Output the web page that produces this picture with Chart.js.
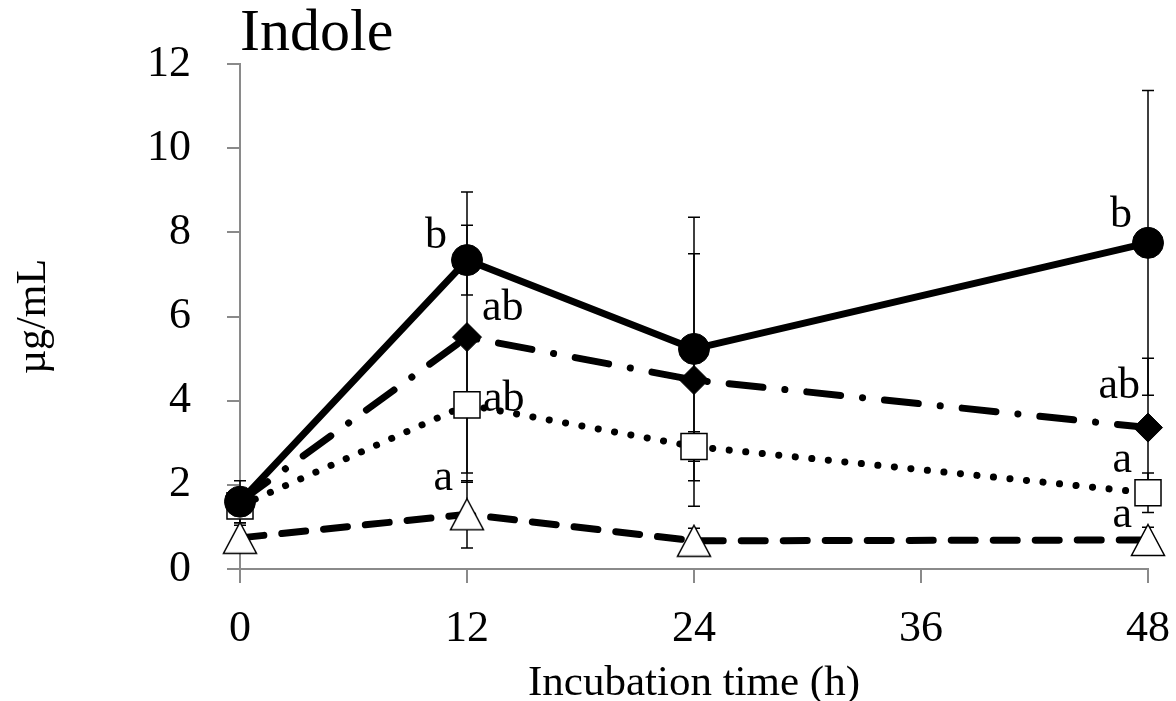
<!DOCTYPE html>
<html>
<head>
<meta charset="utf-8">
<script src="https://cdn.jsdelivr.net/npm/chart.js@4.4.1/dist/chart.umd.min.js"></script>
<style>
  html, body { margin: 0; padding: 0; background: #ffffff; }
  #wrap { width: 1176px; height: 701px; }
</style>
</head>
<body>
<div id="wrap"><canvas id="c" width="1176" height="701"></canvas></div>
<script>
// ---- data ----
const hours = [0, 12, 24, 48];
const xTickValues = [0, 12, 24, 36, 48];
const yTickValues = [0, 2, 4, 6, 8, 10, 12];

const circleMean   = [1.6, 7.34, 5.23, 7.75];
const circleSD     = [0.5, 0.83, 3.13, 3.62];
const diamondMean  = [1.6, 5.51, 4.49, 3.36];
const diamondSD    = [0.3, 3.45, 3.0, 1.65];
const squareMean   = [1.5, 3.9, 2.91, 1.81];
const squareSD     = [0.4, 1.62, 0.35, 0.47];
const triangleMean = [0.74, 1.3, 0.67, 0.69];
const triangleSD   = [0.3, 0.8, 0.3, 0.3];

const lettersAt12 = ['b', 'ab', 'ab', 'a'];
const lettersAt48 = ['b', 'ab', 'a', 'a'];

// ---- styles ----
const FONT = "'Liberation Serif', 'DejaVu Serif', serif";
const AXIS_GRAY = '#8a8a8a';
const letterStyle12 = [
  { dx: -20, dy: -12, align: 'right' },
  { dx: 15,  dy: -17, align: 'left' },
  { dx: 16,  dy: 6,   align: 'left' },
  { dx: -14, dy: -24, align: 'right' }
];
const letterStyle48 = [
  { dx: -16, dy: -16, align: 'right' },
  { dx: -8,  dy: -30, align: 'right' },
  { dx: -16, dy: -21, align: 'right' },
  { dx: -16, dy: -13, align: 'right' }
];

function makeTriangle() {
  const cv = document.createElement('canvas');
  cv.width = 36; cv.height = 34;
  const g = cv.getContext('2d');
  g.beginPath();
  g.moveTo(18, 1.5);
  g.lineTo(34.5, 32.5);
  g.lineTo(1.5, 32.5);
  g.closePath();
  g.fillStyle = '#ffffff';
  g.fill();
  g.lineWidth = 1.5;
  g.strokeStyle = '#000000';
  g.stroke();
  return cv;
}
const triangleImg = makeTriangle();

function pts(arr) { return hours.map((h, i) => ({ x: h, y: arr[i] })); }

const datasets = [
  { label: 'circle', data: pts(circleMean), sd: circleSD,
    borderColor: '#000', borderWidth: 7, borderCapStyle: 'round', borderJoinStyle: 'round',
    pointStyle: 'circle', pointRadius: 15.5, pointBackgroundColor: '#000', pointBorderColor: '#000', pointBorderWidth: 1 },
  { label: 'diamond', data: pts(diamondMean), sd: diamondSD,
    borderColor: '#000', borderWidth: 7, borderDash: [34, 22, 0.1, 22], borderCapStyle: 'round',
    pointStyle: 'rectRot', pointRadius: 14.5, pointBackgroundColor: '#000', pointBorderColor: '#000', pointBorderWidth: 1 },
  { label: 'square', data: pts(squareMean), sd: squareSD,
    borderColor: '#000', borderWidth: 7, borderDash: [0.1, 16.5], borderCapStyle: 'round',
    pointStyle: 'rect', pointRadius: 18.4, pointBackgroundColor: '#fff', pointBorderColor: '#000', pointBorderWidth: 1.5 },
  { label: 'triangle', data: pts(triangleMean), sd: triangleSD,
    borderColor: '#000', borderWidth: 7, borderDash: [24, 18], borderCapStyle: 'round',
    pointStyle: triangleImg, pointRadius: 17, pointBackgroundColor: '#fff', pointBorderColor: '#000', pointBorderWidth: 1.5 }
];

const errorBars = {
  id: 'errorBars',
  beforeDatasetsDraw(chart) {
    const { ctx, scales: { x, y } } = chart;
    ctx.save();
    ctx.strokeStyle = '#000';
    ctx.lineWidth = 1.5;
    chart.data.datasets.forEach(ds => {
      ds.data.forEach((p, i) => {
        const e = ds.sd[i];
        const px = x.getPixelForValue(p.x);
        const top = y.getPixelForValue(p.y + e);
        const bot = y.getPixelForValue(p.y - e);
        ctx.beginPath();
        ctx.moveTo(px, top); ctx.lineTo(px, bot);
        ctx.moveTo(px - 6, top); ctx.lineTo(px + 6, top);
        ctx.moveTo(px - 6, bot); ctx.lineTo(px + 6, bot);
        ctx.stroke();
      });
    });
    ctx.restore();
  }
};

const letters = {
  id: 'letters',
  afterDatasetsDraw(chart) {
    const { ctx, scales: { x, y } } = chart;
    ctx.save();
    ctx.fillStyle = '#000';
    ctx.font = '44px ' + FONT;
    ctx.textBaseline = 'alphabetic';
    const draw = (hour, texts, styles) => {
      const idx = hours.indexOf(hour);
      texts.forEach((t, s) => {
        const p = chart.data.datasets[s].data[idx];
        const st = styles[s];
        ctx.textAlign = st.align;
        ctx.fillText(t, x.getPixelForValue(p.x) + st.dx, y.getPixelForValue(p.y) + st.dy);
      });
    };
    draw(12, lettersAt12, letterStyle12);
    draw(48, lettersAt48, letterStyle48);
    ctx.restore();
  }
};

new Chart(document.getElementById('c'), {
  type: 'line',
  data: { datasets },
  options: {
    responsive: false,
    animation: false,
    devicePixelRatio: 1,
    layout: { padding: { left: 0, right: 28, top: 0, bottom: 0 } },
    elements: { line: { tension: 0, fill: false } },
    datasets: { line: { clip: false } },
    plugins: {
      legend: { display: false },
      tooltip: { enabled: false },
      title: {
        display: true, text: 'Indole', align: 'start', fullSize: false,
        color: '#000', font: { family: FONT, size: 60, weight: 'normal', lineHeight: 1 },
        padding: { top: 4, bottom: 0 }
      }
    },
    scales: {
      x: {
        type: 'linear', min: 0, max: 48,
        afterBuildTicks: s => { s.ticks = xTickValues.map(v => ({ value: v })); },
        afterFit: s => { s.height = 132; s.paddingLeft = 0; s.paddingRight = 0; },
        grid: { drawOnChartArea: false, drawTicks: true, tickLength: 14, color: AXIS_GRAY, lineWidth: 2 },
        border: { display: true, color: AXIS_GRAY, width: 2 },
        ticks: { color: '#000', font: { family: FONT, size: 44 }, padding: 20, maxRotation: 0, autoSkip: false },
        title: { display: true, text: 'Incubation time (h)', color: '#000',
                 font: { family: FONT, size: 43, lineHeight: 1 }, padding: { top: 0, bottom: -4 } }
      },
      y: {
        type: 'linear', min: 0, max: 12,
        afterBuildTicks: s => { s.ticks = yTickValues.map(v => ({ value: v })); },
        afterFit: s => { s.width = 240; s.paddingTop = 0; s.paddingBottom = 0; },
        grid: { drawOnChartArea: false, drawTicks: true, tickLength: 13, color: AXIS_GRAY, lineWidth: 2 },
        border: { display: true, color: AXIS_GRAY, width: 2 },
        ticks: { color: '#000', font: { family: FONT, size: 44 }, padding: 36 },
        title: { display: true, text: 'µg/mL', color: '#000',
                 font: { family: FONT, size: 42, lineHeight: 1 }, padding: { top: 13, bottom: 0 } }
      }
    }
  },
  plugins: [errorBars, letters]
});
</script>
</body>
</html>
